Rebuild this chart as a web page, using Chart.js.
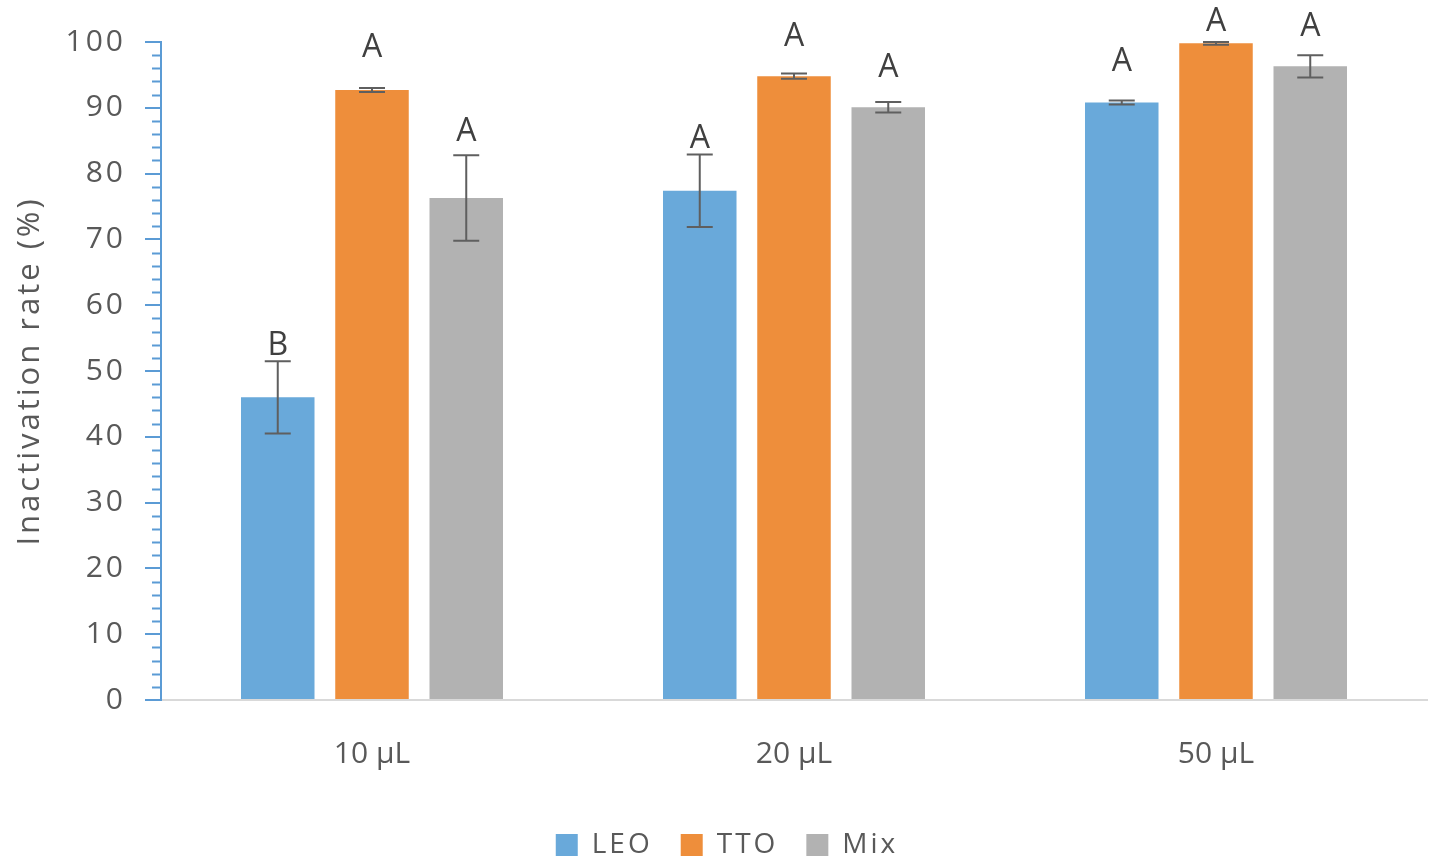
<!DOCTYPE html>
<html>
<head>
<meta charset="utf-8">
<title>Inactivation rate</title>
<script src="https://cdn.jsdelivr.net/npm/chart.js@4.4.1/dist/chart.umd.min.js"></script>
<style>
  html, body { margin: 0; padding: 0; background: #ffffff; }
  #wrap { width: 1432px; height: 859px; position: relative; }
</style>
</head>
<body>
<div id="wrap"><canvas id="chart"></canvas></div>
<script>
// Volumes tested
const categories = ['10 µL', '20 µL', '50 µL'];

// Mean inactivation rate (%) per oil
const leoValues = [46.0, 77.4, 90.8];
const ttoValues = [92.7, 94.8, 99.8];
const mixValues = [76.3, 90.1, 96.3];

// Standard deviations (error bars)
const leoErrors = [5.5, 5.5, 0.3];
const ttoErrors = [0.3, 0.4, 0.2];
const mixErrors = [6.5, 0.8, 1.7];

// Significance letters
const leoLetters = ['B', 'A', 'A'];
const ttoLetters = ['A', 'A', 'A'];
const mixLetters = ['A', 'A', 'A'];

// Y axis tick values
const yTicks = [0, 10, 20, 30, 40, 50, 60, 70, 80, 90, 100];

const FONT = '"Open Sans", "Liberation Sans", sans-serif';
const TEXT = '#595959';
const AXIS_BLUE = '#5b9bd5';

// Error bars with caps, plus letters above them
const errorBarPlugin = {
  id: 'errorBars',
  afterDatasetsDraw(chart, args, opts) {
    const ctx = chart.ctx;
    const y = chart.scales.y;
    chart.data.datasets.forEach((ds, di) => {
      const meta = chart.getDatasetMeta(di);
      if (meta.hidden) return;
      meta.data.forEach((bar, i) => {
        const v = ds.data[i];
        const e = ds.errors[i];
        const yTop = y.getPixelForValue(v + e);
        const yBot = y.getPixelForValue(v - e);
        ctx.save();
        ctx.strokeStyle = opts.color;
        ctx.lineWidth = opts.lineWidth;
        ctx.beginPath();
        ctx.moveTo(bar.x, yTop);
        ctx.lineTo(bar.x, yBot);
        ctx.moveTo(bar.x - opts.capHalf, yTop);
        ctx.lineTo(bar.x + opts.capHalf, yTop);
        ctx.moveTo(bar.x - opts.capHalf, yBot);
        ctx.lineTo(bar.x + opts.capHalf, yBot);
        ctx.stroke();
        ctx.fillStyle = opts.letterColor;
        ctx.font = opts.letterFont;
        ctx.textAlign = 'center';
        ctx.textBaseline = 'alphabetic';
        ctx.fillText(ds.letters[i], bar.x, yTop - opts.letterGaps[di][i]);
        ctx.restore();
      });
    });
  }
};

// Short minor ticks on the value axis, every 2 units
const minorTickPlugin = {
  id: 'minorTicks',
  afterDraw(chart, args, opts) {
    const y = chart.scales.y;
    const ctx = chart.ctx;
    const x0 = y.right;
    ctx.save();
    ctx.strokeStyle = opts.color;
    ctx.lineWidth = opts.lineWidth;
    ctx.beginPath();
    for (let v = y.min; v <= y.max; v += opts.step) {
      if (v % 10 === 0) continue;
      const py = Math.round(y.getPixelForValue(v)) + 0.5;
      ctx.moveTo(x0 - opts.length, py);
      ctx.lineTo(x0, py);
    }
    ctx.stroke();
    ctx.restore();
  }
};

// Slightly wider letter spacing for the value axis and the legend text
const spacingPlugin = {
  id: 'spacing',
  beforeLayout(chart, args, opts) {
    const wrap = (item, spacing) => {
      if (!item || item.__spaced) return;
      const base = Object.getPrototypeOf(item).draw;
      item.draw = function (area) {
        const ctx = this.ctx;
        ctx.save();
        ctx.letterSpacing = spacing;
        base.call(this, area);
        ctx.restore();
      };
      item.__spaced = true;
    };
    wrap(chart.scales.y, opts.axis);
    wrap(chart.legend, opts.legend);
  }
};

new Chart(document.getElementById('chart'), {
  type: 'bar',
  data: {
    labels: categories,
    datasets: [
      { label: 'LEO', data: leoValues, errors: leoErrors, letters: leoLetters, backgroundColor: '#69a9da' },
      { label: 'TTO', data: ttoValues, errors: ttoErrors, letters: ttoLetters, backgroundColor: '#ee8e3b' },
      { label: 'Mix', data: mixValues, errors: mixErrors, letters: mixLetters, backgroundColor: '#b2b2b2' }
    ]
  },
  options: {
    responsive: true,
    maintainAspectRatio: false,
    animation: false,
    devicePixelRatio: 1,
    categoryPercentage: 0.67,
    barPercentage: 0.78,
    layout: { padding: { top: 42, right: 5, left: 0, bottom: -10 } },
    scales: {
      x: {
        grid: { display: false, drawTicks: false },
        border: { display: true, color: '#d9d9d9', width: 2 },
        ticks: { color: TEXT, font: { family: FONT, size: 30 }, padding: 36 },
        afterFit(scale) { scale.height = 103; }
      },
      y: {
        min: 0,
        max: 100,
        afterBuildTicks(scale) { scale.ticks = yTicks.map(v => ({ value: v })); },
        grid: { drawOnChartArea: false, drawTicks: true, tickLength: 16, color: AXIS_BLUE, lineWidth: 2 },
        border: { display: true, color: AXIS_BLUE, width: 2 },
        ticks: { color: TEXT, font: { family: FONT, size: 30 }, padding: 19 },
        title: {
          display: true,
          text: 'Inactivation rate (%)',
          color: TEXT,
          font: { family: FONT, size: 31 },
          padding: { top: 12, bottom: 0 }
        },
        afterFit(scale) { scale.width = 161; }
      }
    },
    plugins: {
      legend: {
        position: 'bottom',
        labels: {
          color: TEXT,
          font: { family: FONT, size: 28 },
          boxWidth: 22,
          boxHeight: 22,
          padding: 28
        }
      },
      tooltip: { enabled: false },
      errorBars: {
        color: '#5f5f5f',
        lineWidth: 2,
        capHalf: 13,
        letterColor: '#404040',
        letterFont: '32px ' + FONT,
        letterGaps: [[6, 7, 30], [31, 28, 11], [14, 25, 19]]
      },
      minorTicks: { color: AXIS_BLUE, lineWidth: 2, length: 9, step: 2 },
      spacing: { axis: '3px', legend: '3px' }
    }
  },
  plugins: [errorBarPlugin, minorTickPlugin, spacingPlugin]
});
</script>
</body>
</html>
